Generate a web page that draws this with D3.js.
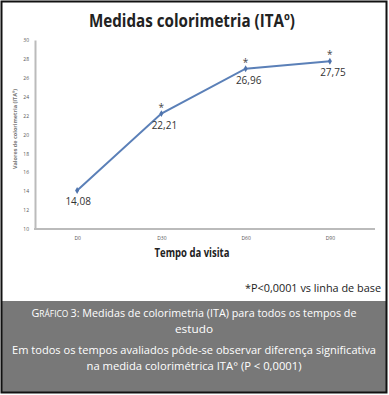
<!DOCTYPE html>
<html>
<head>
<meta charset="utf-8">
<script src="https://cdn.jsdelivr.net/npm/d3@7"></script>
<style>
  body { margin: 0; background: #fff; }
  svg { display: block; }
</style>
</head>
<body>
<div id="chart"></div>
<script>
const visits = ["D0", "D30", "D60", "D90"];
const itaValues = [14.08, 22.21, 26.96, 27.75];
const valueLabels = ["14,08", "22,21", "26,96", "27,75"];
const significant = [false, true, true, true];
const yTicks = [10, 12, 14, 16, 18, 20, 22, 24, 26, 28, 30];

const W = 389, H = 395;

const svg = d3.select("#chart").append("svg")
    .attr("width", W)
    .attr("height", H);

// outer frame + caption box
svg.append("rect")
    .attr("x", 2).attr("y", 301).attr("width", 384).attr("height", 91)
    .attr("fill", "#787878");
svg.append("rect")
    .attr("x", 1.5).attr("y", 1.5).attr("width", 385).attr("height", 391)
    .attr("fill", "none").attr("stroke", "#111").attr("stroke-width", 2);

const x = d3.scalePoint().domain(visits).range([35, 372]).padding(0.5);
const y = d3.scaleLinear().domain([10, 30]).range([229, 40]);

svg.append("text")
    .attr("x", 192).attr("y", 27)
    .attr("text-anchor", "middle")
    .style("font-family", "'Open Sans', sans-serif")
    .style("font-weight", "bold")
    .style("font-size", "17px")
    .attr("textLength", 206).attr("lengthAdjust", "spacingAndGlyphs")
    .attr("fill", "#222")
    .text("Medidas colorimetria (ITAº)");

// y axis
const yAxis = svg.append("g")
    .attr("transform", "translate(35,0)")
    .call(d3.axisLeft(y).tickValues(yTicks).tickSize(0).tickPadding(6));
yAxis.select(".domain").attr("stroke", "#bbb").attr("stroke-width", 2);
yAxis.selectAll("text")
    .style("font-family", "'Open Sans', sans-serif")
    .style("font-size", "5px")
    .attr("fill", "#555");

// x axis
const xAxis = svg.append("g")
    .attr("transform", "translate(0,229)")
    .call(d3.axisBottom(x).tickSize(0).tickPadding(7));
xAxis.select(".domain").attr("stroke", "#bbb").attr("stroke-width", 2)
    .attr("d", "M34,0H375");
xAxis.selectAll("text")
    .style("font-family", "'Open Sans', sans-serif")
    .style("font-size", "5px")
    .attr("fill", "#555");

svg.append("text")
    .attr("transform", "translate(17,129) rotate(-90)")
    .attr("text-anchor", "middle")
    .style("font-family", "'Open Sans', sans-serif")
    .style("font-weight", "bold")
    .style("font-size", "5.5px")
    .attr("fill", "#777")
    .text("Valores de colorimetria (ITAº)");

svg.append("text")
    .attr("x", 192).attr("y", 257)
    .attr("text-anchor", "middle")
    .style("font-family", "'Open Sans', sans-serif")
    .style("font-weight", "bold")
    .style("font-size", "12.5px")
    .attr("textLength", 75).attr("lengthAdjust", "spacingAndGlyphs")
    .attr("fill", "#222")
    .text("Tempo da visita");

// line + markers
const line = d3.line()
    .x((d, i) => x(visits[i]))
    .y(d => y(d));

svg.append("path")
    .datum(itaValues)
    .attr("d", line)
    .attr("fill", "none")
    .attr("stroke", "#5b80b8")
    .attr("stroke-width", 2);

svg.selectAll(".marker")
    .data(itaValues)
    .join("path")
    .attr("class", "marker")
    .attr("d", d3.symbol(d3.symbolDiamond, 14))
    .attr("transform", (d, i) => `translate(${x(visits[i])},${y(d)})`)
    .attr("fill", "#4f74ad");

svg.selectAll(".star")
    .data(itaValues)
    .join("text")
    .attr("class", "star")
    .attr("x", (d, i) => x(visits[i]))
    .attr("y", d => y(d) - 3)
    .attr("text-anchor", "middle")
    .style("font-family", "'Open Sans', sans-serif")
    .style("font-size", "10px")
    .attr("fill", "#444")
    .text((d, i) => significant[i] ? "*" : "");

svg.selectAll(".val")
    .data(itaValues)
    .join("text")
    .attr("class", "val")
    .attr("x", (d, i) => x(visits[i]) + (i === 0 ? 1 : 3))
    .attr("y", d => y(d) + 15)
    .attr("text-anchor", "middle")
    .style("font-family", "'Open Sans', sans-serif")
    .style("font-size", "10px")
    .attr("fill", "#333")
    .text((d, i) => valueLabels[i]);

// footnote
svg.append("text")
    .attr("x", 381).attr("y", 292)
    .attr("text-anchor", "end")
    .style("font-family", "'Open Sans', sans-serif")
    .style("font-size", "11px")
    .attr("textLength", 136).attr("lengthAdjust", "spacingAndGlyphs")
    .attr("fill", "#222")
    .text("*P<0,0001 vs linha de base");

// caption
const capFont = "'Open Sans', sans-serif";
const cap1 = svg.append("text")
    .attr("x", 194).attr("y", 317)
    .attr("text-anchor", "middle")
    .style("font-family", capFont)
    .style("font-size", "11.5px")
    .attr("textLength", 325).attr("lengthAdjust", "spacingAndGlyphs")
    .attr("fill", "#fff");
cap1.append("tspan").text("G");
cap1.append("tspan").style("font-size", "9px").text("RÁFICO ");
cap1.append("tspan").text("3: Medidas de colorimetria (ITA) para todos os tempos de");

const captionLines = [
    { t: "estudo", y: 333, w: 38 },
    { t: "Em todos os tempos avaliados pôde-se observar diferença significativa", y: 354, w: 364 },
    { t: "na medida colorimétrica ITA° (P < 0,0001)", y: 370, w: 215 }
];
svg.selectAll(".cap")
    .data(captionLines)
    .join("text")
    .attr("class", "cap")
    .attr("x", 194)
    .attr("y", d => d.y)
    .attr("text-anchor", "middle")
    .style("font-family", capFont)
    .style("font-size", "11.5px")
    .attr("textLength", d => d.w).attr("lengthAdjust", "spacingAndGlyphs")
    .attr("fill", "#fff")
    .text(d => d.t);
</script>
</body>
</html>
